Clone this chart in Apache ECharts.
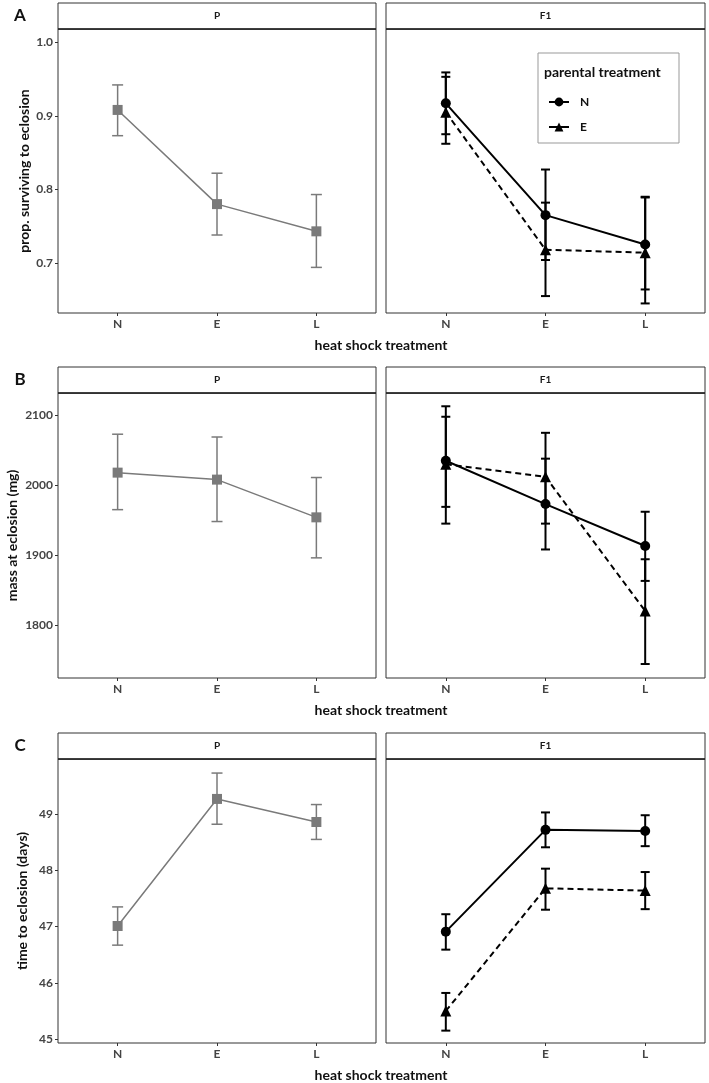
<!DOCTYPE html>
<html style="height: 100%">
<head>
    <meta charset="utf-8">
</head>
<body style="height: 100%; margin: 0; background: #fff">
<div id="container" style="width: 709px; height: 1083px"></div>
<script type="text/javascript" src="https://cdn.jsdelivr.net/npm/echarts@6/dist/echarts.min.js"></script>
<script type="text/javascript">
    var cats = ['N', 'E', 'L'];

    // A: proportion surviving to eclosion
    var survTicks = [0.7, 0.8, 0.9, 1.0];
    var survP = [0.908, 0.780, 0.743];
    var survPLo = [0.873, 0.738, 0.694];
    var survPHi = [0.942, 0.822, 0.793];
    var survN = [0.917, 0.765, 0.725];
    var survNLo = [0.875, 0.704, 0.664];
    var survNHi = [0.959, 0.827, 0.790];
    var survE = [0.905, 0.718, 0.714];
    var survELo = [0.862, 0.655, 0.645];
    var survEHi = [0.953, 0.782, 0.789];

    // B: mass at eclosion (mg)
    var massTicks = [1800, 1900, 2000, 2100];
    var massP = [2018, 2008, 1954];
    var massPLo = [1965, 1948, 1896];
    var massPHi = [2073, 2069, 2011];
    var massN = [2035, 1973, 1913];
    var massNLo = [1969, 1908, 1863];
    var massNHi = [2098, 2038, 1962];
    var massE = [2030, 2012, 1820];
    var massELo = [1945, 1945, 1744];
    var massEHi = [2113, 2075, 1894];

    // C: time to eclosion (days)
    var timeTicks = [45, 46, 47, 48, 49];
    var timeP = [47.01, 49.27, 48.86];
    var timePLo = [46.67, 48.82, 48.55];
    var timePHi = [47.35, 49.73, 49.17];
    var timeN = [46.91, 48.72, 48.70];
    var timeNLo = [46.59, 48.41, 48.43];
    var timeNHi = [47.22, 49.03, 48.98];
    var timeE = [45.50, 47.68, 47.64];
    var timeELo = [45.15, 47.30, 47.31];
    var timeEHi = [45.82, 48.03, 47.97];

    var FONT = 'Lato';
    var GREY = '#7a7a7a';
    var catPos = [1, 2, 3];

    var dom = document.getElementById("container");
    var myChart = echarts.init(dom);

    var rows = [
        {top: 29, height: 284, min: 0.632, max: 1.018, ticks: survTicks, fmt: function (v) { return v.toFixed(1); },
            name: 'prop. surviving to eclosion', gap: 27},
        {top: 393, height: 285, min: 1724, max: 2132, ticks: massTicks, fmt: function (v) { return String(v); },
            name: 'mass at eclosion (mg)', gap: 39},
        {top: 759, height: 284, min: 44.93, max: 49.98, ticks: timeTicks, fmt: function (v) { return String(v); },
            name: 'time to eclosion (days)', gap: 29}
    ];

    var grids = [], xAxes = [], yAxes = [], graphics = [];
    rows.forEach(function (r, ri) {
        [{left: 58, width: 318, label: 'P'}, {left: 386, width: 319, label: 'F1'}].forEach(function (c, ci) {
            grids.push({left: c.left, top: r.top, width: c.width, height: r.height,
                show: true, borderColor: '#333', borderWidth: 1, backgroundColor: '#fff'});
            xAxes.push({
                type: 'value', gridIndex: grids.length - 1, min: 0.4, max: 3.6,
                axisLine: {show: false}, splitLine: {show: false},
                axisTick: {customValues: catPos, length: 3, lineStyle: {color: '#333'}},
                axisLabel: {customValues: catPos, margin: 5, color: '#444', fontSize: 12, fontWeight: 'bold',
                    fontFamily: FONT, formatter: function (v) { return cats[Math.round(v) - 1]; }}
            });
            yAxes.push({
                type: 'value', gridIndex: grids.length - 1, min: r.min, max: r.max,
                axisLine: {show: false}, splitLine: {show: false},
                axisTick: {show: ci === 0, customValues: r.ticks, length: 3, lineStyle: {color: '#333'}},
                axisLabel: {show: ci === 0, customValues: r.ticks, margin: 5, color: '#444', fontSize: 12,
                    fontWeight: 'bold', fontFamily: FONT, formatter: r.fmt},
                name: ci === 0 ? r.name : '', nameLocation: 'middle', nameGap: r.gap,
                nameTextStyle: {color: '#111', fontSize: 14, fontWeight: 'bold', fontFamily: FONT}
            });
            // facet strip
            graphics.push({type: 'rect', shape: {x: c.left, y: r.top - 26, width: c.width, height: 26},
                style: {fill: '#fff', stroke: '#333', lineWidth: 1}});
            graphics.push({type: 'line', shape: {x1: c.left, y1: r.top, x2: c.left + c.width, y2: r.top},
                style: {stroke: '#222', lineWidth: 1.6}});
            graphics.push({type: 'text', x: c.left + c.width / 2, y: r.top - 13,
                style: {text: c.label, fill: '#1a1a1a', font: 'bold 10px ' + FONT, align: 'center', verticalAlign: 'middle'}});
        });
        graphics.push({type: 'text', x: 381, y: r.top + r.height + 32,
            style: {text: 'heat shock treatment', fill: '#111', font: 'bold 14px ' + FONT, align: 'center', verticalAlign: 'middle'}});
        graphics.push({type: 'text', x: 20, y: r.top - 13,
            style: {text: ['A', 'B', 'C'][ri], fill: '#111', font: 'bold 17px ' + FONT, align: 'center', verticalAlign: 'middle'}});
    });

    // legend box and title
    graphics.push({type: 'rect', shape: {x: 538, y: 53, width: 141, height: 90},
        style: {fill: '#fff', stroke: '#999', lineWidth: 1}, z: 10});
    graphics.push({type: 'text', x: 544, y: 72, z: 11,
        style: {text: 'parental treatment', fill: '#111', font: 'bold 14px ' + FONT, verticalAlign: 'middle'}});

    function pts(vals) {
        return vals.map(function (v, i) { return [catPos[i], v]; });
    }

    function errBar(idx, lo, hi, color, width, capW) {
        return {
            type: 'custom', xAxisIndex: idx, yAxisIndex: idx, silent: true, z: 2,
            encode: {x: 0, y: [1, 2]},
            data: lo.map(function (v, i) { return [catPos[i], v, hi[i]]; }),
            renderItem: function (params, api) {
                var x = api.value(0);
                var a = api.coord([x, api.value(1)]);
                var b = api.coord([x, api.value(2)]);
                var h = capW / 2;
                var st = {stroke: color, lineWidth: width};
                return {
                    type: 'group', children: [
                        {type: 'line', shape: {x1: a[0], y1: a[1], x2: b[0], y2: b[1]}, style: st},
                        {type: 'line', shape: {x1: a[0] - h, y1: a[1], x2: a[0] + h, y2: a[1]}, style: st},
                        {type: 'line', shape: {x1: b[0] - h, y1: b[1], x2: b[0] + h, y2: b[1]}, style: st}
                    ]
                };
            }
        };
    }

    function pLine(idx, vals) {
        return {type: 'line', name: 'P', xAxisIndex: idx, yAxisIndex: idx, data: pts(vals), z: 3,
            symbol: 'rect', symbolSize: 10, itemStyle: {color: GREY},
            lineStyle: {color: GREY, width: 1.5}};
    }

    function fLine(idx, name, vals) {
        var isN = name === 'N';
        return {type: 'line', name: name, xAxisIndex: idx, yAxisIndex: idx, data: pts(vals), z: 3,
            symbol: isN ? 'circle' : 'triangle', symbolSize: isN ? 10 : 11,
            itemStyle: {color: '#000'},
            lineStyle: {color: '#000', width: 2, type: isN ? 'solid' : [6, 4]}};
    }

    var series = [
        errBar(0, survPLo, survPHi, GREY, 1.5, 11), pLine(0, survP),
        errBar(1, survNLo, survNHi, '#000', 2, 9), errBar(1, survELo, survEHi, '#000', 2, 9),
        fLine(1, 'N', survN), fLine(1, 'E', survE),
        errBar(2, massPLo, massPHi, GREY, 1.5, 11), pLine(2, massP),
        errBar(3, massNLo, massNHi, '#000', 2, 9), errBar(3, massELo, massEHi, '#000', 2, 9),
        fLine(3, 'N', massN), fLine(3, 'E', massE),
        errBar(4, timePLo, timePHi, GREY, 1.5, 11), pLine(4, timeP),
        errBar(5, timeNLo, timeNHi, '#000', 2, 9), errBar(5, timeELo, timeEHi, '#000', 2, 9),
        fLine(5, 'N', timeN), fLine(5, 'E', timeE)
    ];

    var option = {
        animation: false,
        backgroundColor: '#fff',
        grid: grids,
        xAxis: xAxes,
        yAxis: yAxes,
        legend: {
            data: ['N', 'E'], orient: 'vertical', left: 543, top: 91, z: 12,
            itemWidth: 20, itemHeight: 11, itemGap: 13, selectedMode: false,
            lineStyle: {type: 'solid', width: 2, color: '#000'},
            textStyle: {color: '#111', fontSize: 12, fontWeight: 'bold', fontFamily: FONT, padding: [0, 0, 0, 6]}
        },
        graphic: graphics,
        series: series
    };

    if (option && typeof option === "object") {
        myChart.setOption(option, true);
    }
</script>
</body>
</html>
